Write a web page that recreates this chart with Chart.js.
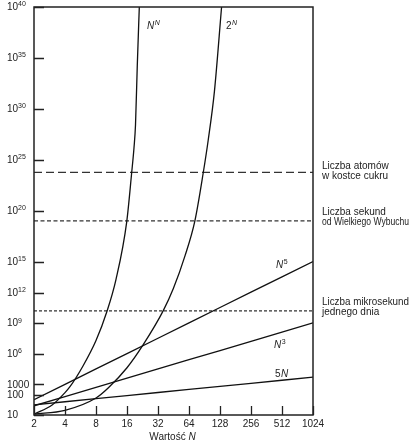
<!DOCTYPE html>
<html>
<head>
<meta charset="utf-8">
<script src="https://cdn.jsdelivr.net/npm/chart.js@4.4.0/dist/chart.umd.min.js"></script>
<style>
  body { margin: 0; background: #fff; }
</style>
</head>
<body>
<canvas id="growthChart" width="414" height="443"></canvas>
<script>
// x axis - value of N, doubling each tick
var nTicks = [2, 4, 8, 16, 32, 64, 128, 256, 512, 1024];

// y axis tick positions and the labels printed next to them (base^exponent)
var yTickValues = [1, 1e2, 1e3, 1e6, 1e9, 1e12, 1e15, 1e20, 1e25, 1e30, 1e35, 1e40];
var yTickLabels = ['10', '100', '1000', '10^6', '10^9', '10^12', '10^15', '10^20', '10^25', '10^30', '10^35', '10^40'];

// straight lines, one value per tick of N
var fiveN = [10, 20, 40, 80, 160, 320, 640, 1280, 2560, 5120];
var nCubed = [8, 64, 512, 4096, 32768, 262144, 2097152, 16777216, 134217728, 1073741824];
var nFifth = [32, 1024, 32768, 1048576, 33554432, 1073741824, 34359738368, 1.0995e12, 3.5184e13, 1.1259e15];

// the two steep curves
var nnN = [2, 3, 4, 4.47, 6, 8, 10.23, 12.5, 15.9, 17.8, 18.7, 19.35, 20.14, 21.07];
var nnValues = [1.2, 9.5, 155, 590, 6.8e4, 2e7, 1.5e10, 1.9e13, 8.7e18, 7e23, 1.5e26, 2.7e28, 2e34, 1e40];
var twoNN = [2, 4, 8, 10.5, 16, 23, 36, 45.1, 58.5, 73, 88, 98.3, 113, 132.6];
var twoNValues = [1.2, 2.9, 47, 445, 4.3e4, 7.9e6, 1.7e10, 2.5e12, 4e15, 1.1e19, 5.6e23, 8.7e26, 5.4e31, 1e40];

// reference levels (horizontal lines) and their captions
var refValues = [6e23, 1.1e19, 1.6e10];
var refLabels = [
    ['Liczba atomów', 'w kostce cukru'],
    ['Liczba sekund', 'od Wielkiego Wybuchu'],
    ['Liczba mikrosekund', 'jednego dnia']
];

function toPoints(xs, ys) {
    return xs.map(function (x, i) { return { x: x, y: ys[i] }; });
}

function levelPoints(v) {
    return [{ x: nTicks[0], y: v }, { x: nTicks[nTicks.length - 1], y: v }];
}

var FONT = 'Liberation Sans, Arial, sans-serif';

// draws things like N^N, 2^N, N^5 with a raised small exponent
function drawPower(ctx, x, y, base, baseItalic, sup, supItalic) {
    ctx.font = (baseItalic ? 'italic ' : '') + '10px ' + FONT;
    ctx.fillText(base, x, y);
    var w = ctx.measureText(base).width;
    ctx.font = (supItalic ? 'italic ' : '') + '7px ' + FONT;
    ctx.fillText(sup, x + w + 0.5, y - 4);
}

var decorations = {
    id: 'decorations',
    afterDatasetsDraw: function (chart) {
        var ctx = chart.ctx;
        var area = chart.chartArea;
        var xs = chart.scales.x;
        var ys = chart.scales.y;
        ctx.save();

        // frame
        ctx.strokeStyle = '#222';
        ctx.lineWidth = 1.5;
        ctx.strokeRect(area.left, area.top, area.right - area.left, area.bottom - area.top);

        // inward tick marks
        ctx.lineWidth = 1.3;
        ctx.beginPath();
        yTickValues.forEach(function (v) {
            var py = Math.round(ys.getPixelForValue(v)) + 0.5;
            ctx.moveTo(area.left, py);
            ctx.lineTo(area.left + 10, py);
        });
        nTicks.forEach(function (n) {
            var px = Math.round(xs.getPixelForValue(n)) + 0.5;
            ctx.moveTo(px, area.bottom);
            ctx.lineTo(px, area.bottom - 9);
        });
        ctx.stroke();

        ctx.fillStyle = '#222';
        ctx.textAlign = 'left';

        // y tick labels, left aligned, exponent raised
        ctx.textBaseline = 'middle';
        yTickValues.forEach(function (v, i) {
            var parts = yTickLabels[i].split('^');
            var py = ys.getPixelForValue(v);
            ctx.font = '10px ' + FONT;
            var wb = ctx.measureText(parts[0]).width;
            ctx.fillText(parts[0], 7, py + 0.5);
            if (parts[1]) {
                ctx.font = '7px ' + FONT;
                ctx.fillText(parts[1], 7 + wb, py - 2.5);
            }
        });

        // curve names
        ctx.textBaseline = 'alphabetic';
        drawPower(ctx, 147, 29, 'N', true, 'N', true);
        drawPower(ctx, 226, 29, '2', false, 'N', true);
        drawPower(ctx, 276, 268, 'N', true, '5', false);
        drawPower(ctx, 274, 348, 'N', true, '3', false);
        ctx.font = '10px ' + FONT;
        ctx.fillText('5', 275, 377);
        var w5 = ctx.measureText('5').width;
        ctx.font = 'italic 10px ' + FONT;
        ctx.fillText('N', 275 + w5 + 0.5, 377);

        // captions for the reference lines
        var shifts = [[-6, 4], [-9, 1.5], [-9, 1.5]];
        ctx.font = '10px ' + FONT;
        ctx.textBaseline = 'middle';
        refValues.forEach(function (v, i) {
            var py = ys.getPixelForValue(v);
            ctx.fillText(refLabels[i][0], area.right + 9, py + shifts[i][0], 87);
            ctx.fillText(refLabels[i][1], area.right + 9, py + shifts[i][1], 87);
        });

        // x axis title "Wartość N"
        ctx.font = '10px ' + FONT;
        var t1 = 'Wartość ';
        var w1 = ctx.measureText(t1).width;
        ctx.font = 'italic 10px ' + FONT;
        var w2 = ctx.measureText('N').width;
        var cx = (area.left + area.right) / 2 - 1;
        var sx = cx - (w1 + w2) / 2;
        ctx.font = '10px ' + FONT;
        ctx.fillText(t1, sx, 437);
        ctx.font = 'italic 10px ' + FONT;
        ctx.fillText('N', sx + w1, 437);

        ctx.restore();
    }
};

var lineStyle = {
    borderColor: '#111',
    borderWidth: 1.3,
    pointRadius: 0,
    fill: false
};

var ctx = document.getElementById('growthChart').getContext('2d');
var chart = new Chart(ctx, {
    type: 'line',
    data: {
        datasets: [
            Object.assign({ label: 'N^N', data: toPoints(nnN, nnValues), cubicInterpolationMode: 'monotone' }, lineStyle),
            Object.assign({ label: '2^N', data: toPoints(twoNN, twoNValues), cubicInterpolationMode: 'monotone' }, lineStyle),
            Object.assign({ label: 'N^5', data: toPoints(nTicks, nFifth) }, lineStyle),
            Object.assign({ label: 'N^3', data: toPoints(nTicks, nCubed) }, lineStyle),
            Object.assign({ label: '5N', data: toPoints(nTicks, fiveN) }, lineStyle),
            Object.assign({}, lineStyle, { label: refLabels[0].join(' '), data: levelPoints(refValues[0]), borderDash: [8, 4], borderColor: '#333' }),
            Object.assign({}, lineStyle, { label: refLabels[1].join(' '), data: levelPoints(refValues[1]), borderDash: [4, 2.5], borderColor: '#333' }),
            Object.assign({}, lineStyle, { label: refLabels[2].join(' '), data: levelPoints(refValues[2]), borderDash: [3, 2], borderWidth: 1.2, borderColor: '#333' })
        ]
    },
    options: {
        responsive: false,
        animation: false,
        layout: { padding: { top: 7, right: 101, left: 0, bottom: 0 } },
        plugins: {
            legend: { display: false },
            tooltip: { enabled: false }
        },
        scales: {
            x: {
                type: 'logarithmic',
                min: 2,
                max: 1024,
                grid: { display: false, drawTicks: false },
                border: { display: false },
                afterBuildTicks: function (scale) {
                    scale.ticks = nTicks.map(function (n) { return { value: n }; });
                },
                afterFit: function (scale) { scale.height = 28; },
                ticks: {
                    autoSkip: false,
                    maxRotation: 0,
                    padding: 3,
                    color: '#222',
                    font: { family: FONT, size: 10 },
                    callback: function (v) { return String(v); }
                }
            },
            y: {
                type: 'logarithmic',
                min: 1,
                max: 1e40,
                grid: { display: false, drawTicks: false },
                border: { display: false },
                afterBuildTicks: function (scale) {
                    scale.ticks = yTickValues.map(function (v) { return { value: v }; });
                },
                afterFit: function (scale) { scale.width = 34; },
                ticks: { display: false }
            }
        }
    },
    plugins: [decorations]
});
</script>
</body>
</html>
